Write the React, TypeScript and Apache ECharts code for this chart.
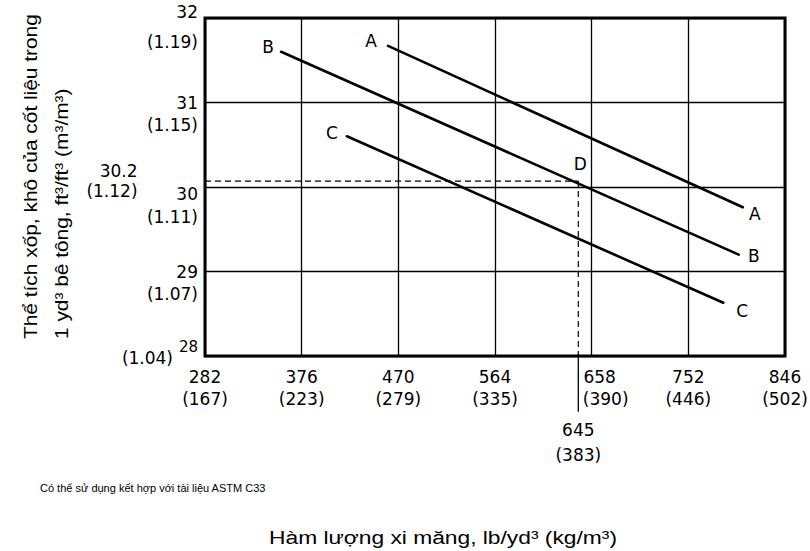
import { useEffect, useRef } from 'react';
import * as echarts from 'echarts';

// ---- data ----
const xTicks = [282, 376, 470, 564, 658, 752, 846];
const xMetric = ['167', '223', '279', '335', '390', '446', '502'];
const yTicks = [28, 29, 30, 31, 32];
const yMetric = ['1.04', '1.07', '1.11', '1.15', '1.19'];

const lineA = [[460, 31.67], [805, 29.76]];
const lineB = [[356, 31.6], [801, 29.2]];
const lineC = [[420, 30.6], [786, 28.63]];

const pointD = [645, 30.07];
const pointDXLabel = ['645', '383'];
const pointDYLabel = ['30.2', '1.12'];
const leaderLeftX = 223.7;
const leaderBottomY = 27.34;

const FONT = 'DejaVu Sans';

export default function App() {
  const ref = useRef<HTMLDivElement>(null);
  useEffect(() => {
    document.body.style.margin = '0';
    const chart = echarts.init(ref.current!, null, { renderer: 'svg' });
    const base = { fontFamily: FONT, fontSize: 17, color: '#000' };
    const option: any = {
      animation: false,
      backgroundColor: '#fff',
      grid: {
        left: 205, right: 25, top: 18, bottom: 195,
        show: true, borderColor: '#000', borderWidth: 3,
        outerBoundsMode: 'none',
      },
      xAxis: {
        type: 'value', min: xTicks[0], max: xTicks[xTicks.length - 1], interval: 94,
        axisLine: { show: false }, axisTick: { show: false },
        splitLine: { show: true, lineStyle: { color: '#000', width: 1.3 } },
        axisLabel: {
          ...base, margin: 10, interval: 0, lineHeight: 22,
          formatter: (v: number) => {
            const i = xTicks.indexOf(Math.round(v));
            if (i < 0) return '';
            if (xTicks[i] === 658) return `{s1|${xTicks[i]}}\n{s2|(${xMetric[i]})}`;
            return `{n|${xTicks[i]}}\n{n|(${xMetric[i]})}`;
          },
          rich: {
            n: { ...base, lineHeight: 22 },
            s1: { ...base, lineHeight: 22, padding: [0, 0, 0, 16] },
            s2: { ...base, lineHeight: 22, padding: [0, 0, 0, 28] },
          },
        },
      },
      yAxis: [
        {
          type: 'value', min: yTicks[0], max: yTicks[yTicks.length - 1], interval: 1,
          axisLine: { show: false }, axisTick: { show: false },
          splitLine: { show: true, lineStyle: { color: '#000', width: 1.3 } },
          axisLabel: {
            ...base, margin: 7,
            formatter: (v: number) => {
              const r = Math.round(v);
              if (r === 32) return `{up|${r}}`;
              if (r === 30) return `{dn|${r}}`;
              if (r === 28) return `{sup|${r}}`;
              return `{n|${r}}`;
            },
            rich: {
              n: { ...base },
              up: { ...base, padding: [0, 0, 12, 0] },
              dn: { ...base, padding: [14, 0, 0, 0] },
              sup: { ...base, fontSize: 15, padding: [0, 0, 18, 0] },
            },
          },
        },
        {
          type: 'value', min: yTicks[0], max: yTicks[yTicks.length - 1], interval: 1,
          position: 'left',
          axisLine: { show: false }, axisTick: { show: false }, splitLine: { show: false },
          axisLabel: {
            ...base, margin: 7,
            formatter: (v: number) => {
              const r = Math.round(v);
              const i = yTicks.indexOf(r);
              if (i < 0) return '';
              const t = `(${yMetric[i]})`;
              if (r === 32) return `{p32|${t}}`;
              if (r === 30) return `{p30|${t}}`;
              if (r === 28) return `{p28|${t}}`;
              return `{n|${t}}`;
            },
            rich: {
              n: { ...base, padding: [44, 0, 0, 0] },
              p32: { ...base, padding: [48, 0, 0, 0] },
              p30: { ...base, padding: [60, 0, 0, 0] },
              p28: { ...base, padding: [4, 25, 0, 0] },
            },
          },
        },
      ],
      series: [
        ...[lineA, lineB, lineC].map((d, k) => ({
          name: ['A', 'B', 'C'][k], type: 'line', data: d, symbol: 'none', z: 5,
          lineStyle: { color: '#000', width: 2.6, cap: 'round' },
        })),
        {
          type: 'line', data: [[xTicks[0], pointD[1]], pointD], symbol: 'none', z: 4,
          lineStyle: { color: '#000', width: 1.2, type: [6, 4] },
        },
        {
          type: 'line', data: [pointD, [pointD[0], yTicks[0]]], symbol: 'none', z: 4,
          lineStyle: { color: '#000', width: 1.2, type: [6, 4] },
        },
        {
          type: 'line', data: [[leaderLeftX, pointD[1]], [xTicks[0], pointD[1]]], symbol: 'none', clip: false,
          lineStyle: { color: '#000', width: 1.3 },
        },
        {
          type: 'line', data: [[pointD[0], yTicks[0]], [pointD[0], leaderBottomY]], symbol: 'none', clip: false,
          lineStyle: { color: '#000', width: 1.3 },
        },
        {
          type: 'scatter', symbolSize: 1, clip: false, z: 6,
          itemStyle: { color: 'rgba(255,255,255,0)', opacity: 1 },
          label: { show: true, position: 'inside', ...base, opacity: 1, textBorderWidth: 0 },
          emphasis: { disabled: true },
          data: [
            { value: lineA[0], label: { formatter: 'A', offset: [-17, -5] } },
            { value: lineA[1], label: { formatter: 'A', offset: [12, 7] } },
            { value: lineB[0], label: { formatter: 'B', offset: [-13, -5] } },
            { value: lineB[1], label: { formatter: 'B', offset: [15, 1] } },
            { value: lineC[0], label: { formatter: 'C', offset: [-15, -3] } },
            { value: lineC[1], label: { formatter: 'C', offset: [19, 8] } },
            { value: pointD, label: { formatter: 'D', offset: [2, -17] } },
            {
              value: [leaderLeftX, pointD[1]],
              label: { formatter: `${pointDYLabel[0]}\n(${pointDYLabel[1]})`, position: 'left', distance: 7, align: 'right', lineHeight: 20 },
            },
            {
              value: [pointD[0], leaderBottomY],
              label: { formatter: `${pointDXLabel[0]}\n(${pointDXLabel[1]})`, position: 'bottom', distance: 5, align: 'center', lineHeight: 25 },
            },
          ],
        },
      ],
      graphic: [
        {
          type: 'text', x: 46, y: 339, rotation: Math.PI / 2, scaleX: 1.16,
          style: {
            text: 'Thể tích xốp, khô của cốt liệu trong\n1 yd³ bê tông, ft³/ft³ (m³/m³)',
            fontFamily: 'Liberation Sans', fontSize: 18, lineHeight: 31, fill: '#000',
            align: 'left', verticalAlign: 'middle',
          },
        },
        {
          type: 'text', x: 443, y: 537, scaleX: 1.2,
          style: {
            text: 'Hàm lượng xi măng, lb/yd³ (kg/m³)',
            fontFamily: 'Liberation Sans', fontSize: 19, fill: '#000',
            align: 'center', verticalAlign: 'middle',
          },
        },
        {
          type: 'text', x: 40, y: 488,
          style: {
            text: 'Có thể sử dụng kết hợp với tài liệu ASTM C33',
            fontFamily: 'Liberation Sans', fontSize: 11, fill: '#000',
            align: 'left', verticalAlign: 'middle',
          },
        },
      ],
    };
    chart.setOption(option);
    return () => chart.dispose();
  }, []);
  return <div ref={ref} style={{ position: 'absolute', left: 0, top: 0, width: 810, height: 551 }} />;
}
